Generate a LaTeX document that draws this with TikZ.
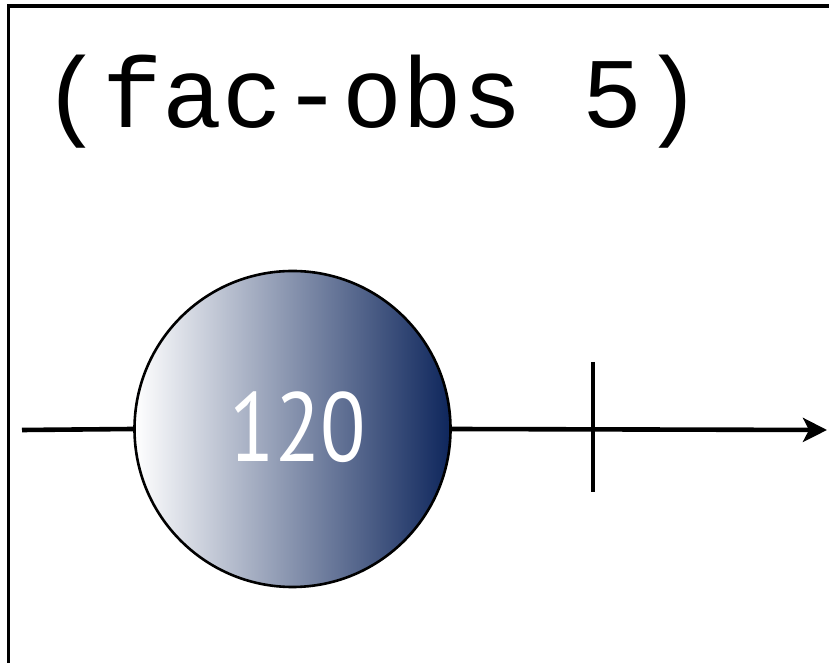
\documentclass[tikz,border=0pt]{standalone}
\usepackage{fontspec}
\setmainfont{Liberation Sans}
\newfontfamily\codefont{Liberation Mono}
\newfontfamily\labfont{PT Sans}
\usetikzlibrary{arrows.meta}
\definecolor{navy}{RGB}{14,38,92}
\tikzset{
  conn/.style={line width=4.6pt},
  ball/.style={circle, draw=black, line width=2.6pt, minimum size=316pt, inner sep=0pt,
    left color=white, right color=navy, shading angle=90},
}
\begin{document}
\begin{tikzpicture}[x=1pt,y=1pt]
\useasboundingbox (0,0) rectangle (829,663);
\fill[white] (0,0) rectangle (829,663);
\draw[line width=3.4pt] (8.5,0) -- (8.5,657) -- (829,657);
\node[anchor=base west, inner sep=0pt, font=\codefont\fontsize{100}{100}\selectfont] (title) at (42,535) {(fac-obs 5)};
\node[ball] (b) at (292.5,234) {};
\node[text=white, xscale=0.85, font=\labfont\fontsize{98}{98}\selectfont] (lbl) at (298,236) {120};
\coordinate (start) at (22,233);
\coordinate (tip) at (827,233);
\coordinate (ttop) at (593,301);
\coordinate (tbot) at (593,171);
\draw[conn] (start) -- (b.west);
\draw[conn, -{Stealth[length=24pt, width=24pt, inset=6pt]}] (b.east) -- (tip);
\draw[conn] (ttop) -- (tbot);
\end{tikzpicture}
\end{document}
